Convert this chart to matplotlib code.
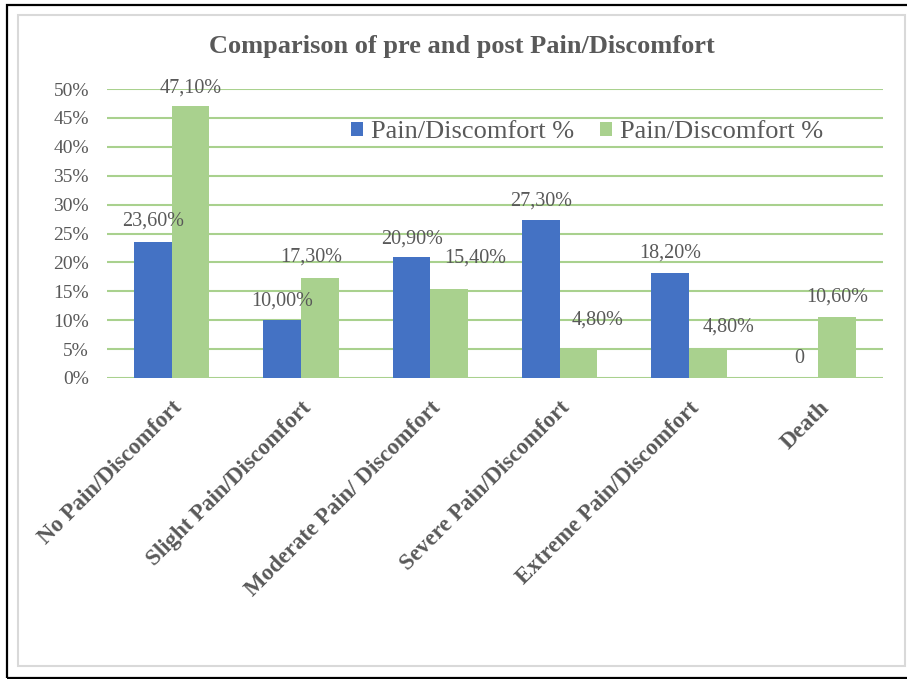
import matplotlib
matplotlib.use("Agg")
import matplotlib.pyplot as plt
from matplotlib.patches import Rectangle
from matplotlib.ticker import FuncFormatter

categories = ["No Pain/Discomfort", "Slight Pain/Discomfort", "Moderate Pain/ Discomfort",
              "Severe Pain/Discomfort", "Extreme Pain/Discomfort", "Death"]
pre_values = [23.6, 10.0, 20.9, 27.3, 18.2, 0.0]
post_values = [47.1, 17.3, 15.4, 4.8, 4.8, 10.6]
pre_labels = ["23,60%", "10,00%", "20,90%", "27,30%", "18,20%", "0"]
post_labels = ["47,10%", "17,30%", "15,40%", "4,80%", "4,80%", "10,60%"]
series_names = ["Pain/Discomfort %", "Pain/Discomfort %"]
y_ticks = [0, 5, 10, 15, 20, 25, 30, 35, 40, 45, 50]

# label nudges (points) relative to the top centre of each bar
pre_offsets = [(0, 15), (0, 14), (0, 13), (0, 14), (0, 14), (0, 14)]
post_offsets = [(0, 13), (-6, 15), (19, 22), (14, 22), (15, 17), (0, 14)]

BLUE = "#4472C4"
GREEN = "#A9D18E"
TEXT = "#595959"
SERIF = ["Liberation Serif", "DejaVu Serif"]

plt.rcParams["font.family"] = SERIF

W, H = 907, 679
fig = plt.figure(figsize=(W / 100, H / 100), dpi=100)

def px_rect(x0, y0, x1, y1, **kw):
    fig.add_artist(Rectangle((x0 / W, 1 - y1 / H), (x1 - x0) / W, (y1 - y0) / H,
                             transform=fig.transFigure, fill=False, **kw))

px_rect(7, 5, 912, 678, edgecolor="black", linewidth=1.6)
px_rect(18, 15, 905, 666, edgecolor="#D9D9D9", linewidth=1.5)

ax = fig.add_axes([107 / W, 1 - 378 / H, (883 - 107) / W, (378 - 89) / H])

x = list(range(len(categories)))
bw = 0.29
xb = [i - bw / 2 for i in x]
xg = [i + bw / 2 for i in x]
ax.bar(xb, pre_values, width=bw, color=BLUE, zorder=3, label=series_names[0])
ax.bar(xg, post_values, width=bw, color=GREEN, zorder=3, label=series_names[1])

for xi, v, lab, (dx, dy) in zip(xb, pre_values, pre_labels, pre_offsets):
    ax.annotate(lab, (xi, v), xytext=(dx, dy), textcoords="offset points",
                ha="center", va="center", fontsize=14.5, color=TEXT, zorder=5)
for xi, v, lab, (dx, dy) in zip(xg, post_values, post_labels, post_offsets):
    ax.annotate(lab, (xi, v), xytext=(dx, dy), textcoords="offset points",
                ha="center", va="center", fontsize=14.5, color=TEXT, zorder=5)

ax.set_xlim(-0.5, len(categories) - 0.5)
ax.set_ylim(0, 50)
ax.set_yticks(y_ticks)
ax.yaxis.set_major_formatter(FuncFormatter(lambda v, p: f"{int(v)}%"))
ax.grid(axis="y", color=GREEN, linewidth=1.5, zorder=0)
ax.set_axisbelow(True)
for s in ax.spines.values():
    s.set_visible(False)
ax.tick_params(axis="y", length=0, pad=13, labelsize=14, labelcolor=TEXT)
ax.tick_params(axis="x", length=0, pad=14)
ax.set_xticks(x)
ax.set_xticklabels(categories, rotation=45, ha="right", rotation_mode="anchor",
                   fontsize=16.5, fontweight="bold", color=TEXT)

leg = ax.legend(loc="center", bbox_to_anchor=(587 / W, 1 - 132 / H),
                bbox_transform=fig.transFigure, ncol=2, frameon=False,
                fontsize=19, handlelength=0.45, handleheight=0.45, handletextpad=0.3,
                columnspacing=1.0, labelcolor=TEXT)

fig.text(462 / W, 1 - 47 / H, "Comparison of pre and post Pain/Discomfort",
         ha="center", va="center", fontsize=19, fontweight="bold", color=TEXT)

fig.savefig("out.png", dpi=100)
